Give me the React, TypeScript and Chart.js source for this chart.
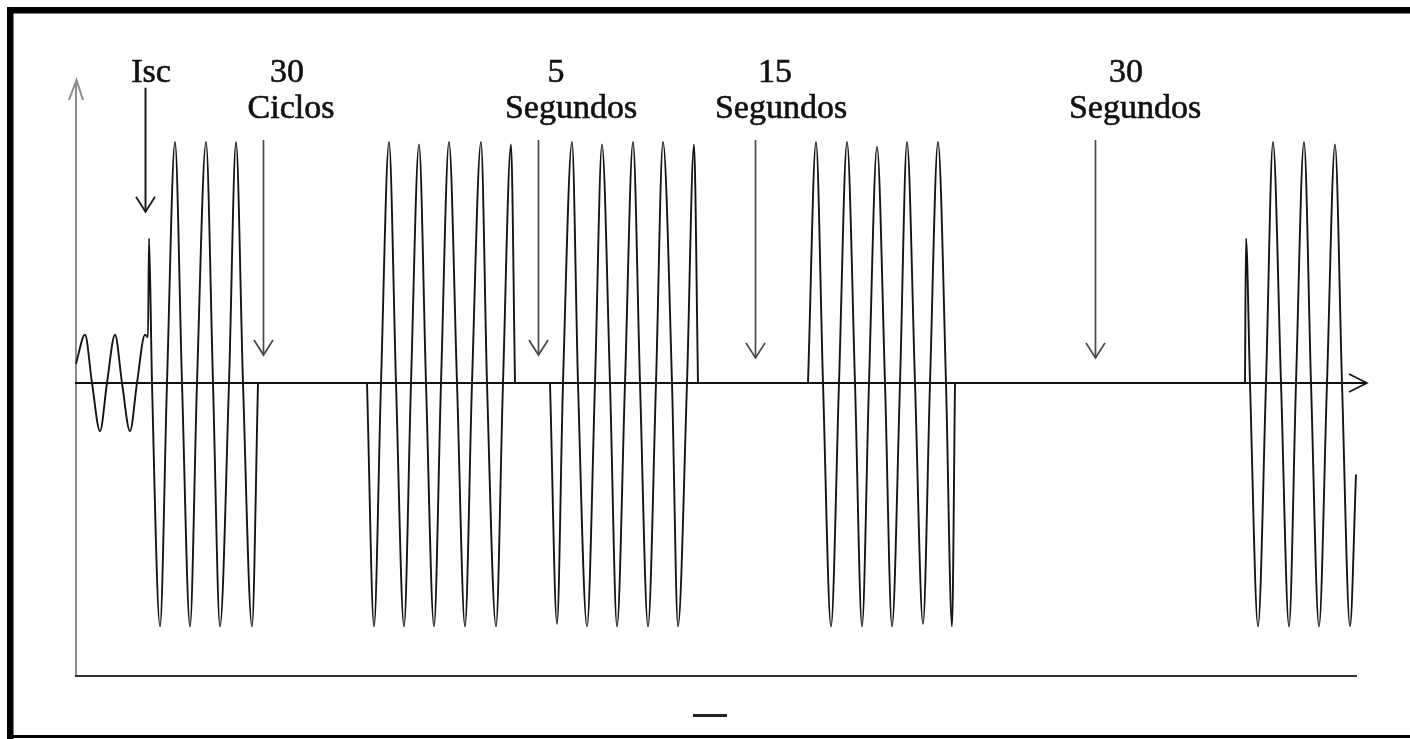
import React, { useEffect, useRef } from "react";
import { Chart, registerables } from "chart.js";

Chart.register(...registerables);

// x: time in drawing units (0 = axes origin); y: current in p.u. of the fault peak
const shot1X = [1, 10, 17, 25, 32, 40, 47, 55, 62, 70, 73, 74, 77, 85, 92, 100, 107, 115, 122, 131, 138, 145, 154, 161, 168, 177, 183];
const shot1Y = [0.08, 0.2, 0, -0.2, 0, 0.2, 0, -0.2, 0, 0.2, 0.19, 0.6, 0, -1.01, 0, 1, 0, -1.01, 0, 1, 0, -1.01, 0, 1, 0, -1.01, 0];

const shot2X = [292, 299, 306, 314, 321, 329, 336, 344, 351, 359, 366, 374, 382, 390, 397, 406, 412, 421, 428, 436, 440];
const shot2Y = [0, -1.01, 0, 1, 0, -1.01, 0, 0.99, 0, -1.01, 0, 1, 0, -1.01, 0, 1, 0, -1.01, 0, 0.99, 0];

const shot3X = [475, 482, 488, 497, 503, 512, 520, 527, 535, 542, 550, 558, 565, 573, 581, 588, 597, 603, 612, 619, 623];
const shot3Y = [0, -1.0, 0, 1, 0, -1.01, 0, 0.99, 0, -1.01, 0, 1, 0, -1.01, 0, 1, 0, -1.01, 0, 0.99, 0];

const shot4X = [733, 741, 748, 756, 764, 772, 780, 787, 794, 802, 810, 817, 825, 832, 840, 848, 855, 863, 871, 877, 880];
const shot4Y = [0, 1, 0, -1.01, 0, 1, 0, -1.01, 0, 0.98, 0, -1.01, 0, 1, 0, -1.0, 0, 1, 0, -1.01, 0];

const shot5X = [1170, 1171, 1175, 1183, 1191, 1198, 1206, 1214, 1221, 1229, 1236, 1244, 1252, 1260, 1267, 1275, 1281];
const shot5Y = [0, 0.6, 0, -1.01, 0, 1, 0, -1.01, 0, 1, 0, -1.01, 0, 0.99, 0, -1.01, -0.38];

// annotations (labels above the waveform)
const labelLine1 = ["Isc", "30", "5", "15", "30"];
const labelLine2 = ["", "Ciclos", "Segundos", "Segundos", "Segundos"];
const labelLine1X = [76, 212, 481, 700, 1051];
const labelLine2X = [76, 216, 496, 706, 1060];
const labelArrowX = [70, 188, 463, 680, 1020];
const labelArrowTopY = [1.225, 1.008, 1.008, 1.008, 1.008];
const labelArrowTipY = [0.71, 0.116, 0.116, 0.104, 0.104];

const X_MAX = 1292;
const Y_MIN = -1.216;
const Y_MAX = 1.257;
const LINE1_Y = 1.249;
const LINE2_Y = 1.1;

function toPoints(xs: number[], ys: number[]) {
  return xs.map((x, i) => ({ x, y: ys[i] }));
}

const diagramPlugin = {
  id: "diagram",
  beforeDatasetsDraw(chart: any) {
    const ctx = chart.ctx as CanvasRenderingContext2D;
    const xs = chart.scales.x;
    const ys = chart.scales.y;
    const W = chart.width;
    const H = chart.height;
    ctx.save();
    ctx.fillStyle = "#ffffff";
    ctx.fillRect(0, 0, W, H);
    // frame (left, top, bottom)
    ctx.fillStyle = "#000000";
    ctx.fillRect(7, 7, 6.5, H - 7);
    ctx.fillRect(7, 7, W - 7, 6.5);
    ctx.fillRect(7, H - 4, W - 7, 3);

    const x0 = xs.getPixelForValue(0);
    const y0 = ys.getPixelForValue(0);
    const yTop = ys.getPixelForValue(Y_MAX);
    const yBot = ys.getPixelForValue(Y_MIN);
    const xEnd = xs.getPixelForValue(X_MAX);

    // vertical axis
    ctx.strokeStyle = "#8c8c8c";
    ctx.lineWidth = 2;
    ctx.beginPath();
    ctx.moveTo(x0 + 1, yBot);
    ctx.lineTo(x0 + 1, yTop + 1);
    ctx.stroke();
    ctx.beginPath();
    ctx.moveTo(x0 - 6, yTop + 20);
    ctx.lineTo(x0 + 1.5, yTop);
    ctx.lineTo(x0 + 8, yTop + 20);
    ctx.stroke();

    // bottom line
    ctx.strokeStyle = "#333333";
    ctx.lineWidth = 2;
    ctx.beginPath();
    ctx.moveTo(x0, yBot);
    ctx.lineTo(xs.getPixelForValue(1282), yBot);
    ctx.stroke();

    // time axis with arrow
    ctx.strokeStyle = "#111111";
    ctx.lineWidth = 2;
    ctx.beginPath();
    ctx.moveTo(x0, y0);
    ctx.lineTo(xEnd, y0);
    ctx.stroke();
    ctx.lineWidth = 1.6;
    ctx.beginPath();
    ctx.moveTo(xEnd - 18, y0 - 9);
    ctx.lineTo(xEnd, y0);
    ctx.lineTo(xEnd - 18, y0 + 9);
    ctx.stroke();

    // small dash under the chart
    ctx.fillStyle = "#222222";
    ctx.fillRect(xs.getPixelForValue(618), yBot + 38, 34, 3);
    ctx.restore();
  },
  afterDatasetsDraw(chart: any) {
    const ctx = chart.ctx as CanvasRenderingContext2D;
    const xs = chart.scales.x;
    const ys = chart.scales.y;
    ctx.save();
    labelArrowX.forEach((ax, i) => {
      const px = Math.round(xs.getPixelForValue(ax)) + 0.5;
      const top = ys.getPixelForValue(labelArrowTopY[i]);
      const tip = ys.getPixelForValue(labelArrowTipY[i]);
      ctx.strokeStyle = i === 0 ? "#1a1a1a" : "#4a4a4a";
      ctx.lineWidth = i === 0 ? 2 : 1.7;
      ctx.beginPath();
      ctx.moveTo(px, top);
      ctx.lineTo(px, tip);
      ctx.stroke();
      ctx.lineWidth = 1.8;
      ctx.beginPath();
      ctx.moveTo(px - 9.5, tip - 15);
      ctx.lineTo(px, tip);
      ctx.lineTo(px + 9.5, tip - 15);
      ctx.stroke();
    });
    ctx.fillStyle = "#111111";
    ctx.strokeStyle = "#111111";
    ctx.lineWidth = 0.6;
    ctx.font = '34px "Liberation Serif", "Times New Roman", serif';
    ctx.textAlign = "center";
    ctx.textBaseline = "alphabetic";
    const draw = (t: string, x: number, y: number) => {
      ctx.fillText(t, x, y);
      ctx.strokeText(t, x, y);
    };
    labelLine1.forEach((t, i) => {
      draw(t, xs.getPixelForValue(labelLine1X[i]), ys.getPixelForValue(LINE1_Y));
    });
    labelLine2.forEach((t, i) => {
      if (t) draw(t, xs.getPixelForValue(labelLine2X[i]), ys.getPixelForValue(LINE2_Y));
    });
    ctx.restore();
  },
};

export default function App() {
  const canvasRef = useRef<HTMLCanvasElement | null>(null);

  useEffect(() => {
    document.body.style.margin = "0";
    const canvas = canvasRef.current;
    if (!canvas) return;
    const wave = {
      borderColor: "#141414",
      borderWidth: 1.9,
      pointRadius: 0,
      fill: false,
      cubicInterpolationMode: "monotone" as const,
      clip: false as any,
    };
    const chart = new Chart(canvas, {
      type: "line",
      data: {
        datasets: [
          { ...wave, data: toPoints(shot1X, shot1Y) },
          { ...wave, data: toPoints(shot2X, shot2Y) },
          { ...wave, data: toPoints(shot3X, shot3Y) },
          { ...wave, data: toPoints(shot4X, shot4Y) },
          { ...wave, data: toPoints(shot5X, shot5Y) },
        ],
      },
      options: {
        animation: false,
        responsive: false,
        devicePixelRatio: 1,
        layout: { padding: { left: 75, right: 43, top: 80, bottom: 63 } },
        scales: {
          x: { type: "linear", min: 0, max: X_MAX, display: false },
          y: { type: "linear", min: Y_MIN, max: Y_MAX, display: false },
        },
        plugins: {
          legend: { display: false },
          tooltip: { enabled: false },
        },
        events: [],
      },
      plugins: [diagramPlugin],
    });
    return () => chart.destroy();
  }, []);

  return (
    <div style={{ width: 1410, height: 739, background: "#fff" }}>
      <canvas ref={canvasRef} width={1410} height={739} style={{ display: "block" }} />
    </div>
  );
}
